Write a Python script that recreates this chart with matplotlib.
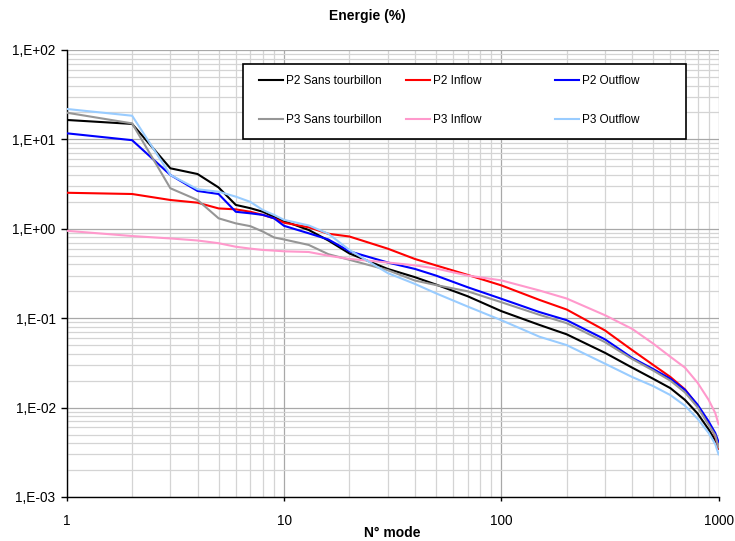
import numpy as np
import matplotlib
matplotlib.use("Agg")
import matplotlib.pyplot as plt
from matplotlib.ticker import FixedLocator, FuncFormatter, LogLocator, NullFormatter
from matplotlib.patches import Rectangle

plt.rcParams['font.family'] = ['Liberation Sans', 'DejaVu Sans']

modes = [1, 2, 3, 4, 5, 6, 7, 8, 9, 10, 13, 16, 20, 30, 40, 50, 70, 100, 150, 200,
         300, 400, 500, 600, 700, 800, 900, 965, 1000]

p2_sans = [16.5, 14.9, 4.75, 4.1, 2.9, 1.85, 1.7, 1.55, 1.36, 1.22, 0.97, 0.74, 0.53,
           0.356, 0.288, 0.238, 0.176, 0.12, 0.084, 0.066, 0.041, 0.028, 0.021,
           0.0165, 0.0122, 0.0086, 0.0057, 0.0043, 0.0035]
p2_inflow = [2.53, 2.45, 2.1, 1.96, 1.69, 1.65, 1.55, 1.43, 1.31, 1.17, 1.04, 0.88, 0.82,
             0.6, 0.46, 0.39, 0.305, 0.233, 0.16, 0.125, 0.073, 0.044, 0.030,
             0.022, 0.016, 0.0105, 0.0067, 0.0048, 0.0035]
p2_outflow = [11.7, 9.8, 4.0, 2.65, 2.45, 1.55, 1.49, 1.43, 1.31, 1.08, 0.89, 0.76, 0.56,
              0.42, 0.356, 0.30, 0.222, 0.165, 0.117, 0.095, 0.058, 0.036, 0.027,
              0.021, 0.0158, 0.0108, 0.007, 0.0052, 0.0041]
p3_sans = [19.9, 15.1, 2.84, 2.1, 1.31, 1.15, 1.07, 0.93, 0.8, 0.76, 0.66, 0.52, 0.45,
           0.345, 0.264, 0.235, 0.2, 0.151, 0.109, 0.088, 0.054, 0.035, 0.026,
           0.020, 0.0148, 0.0101, 0.0064, 0.0049, 0.0036]
p3_inflow = [0.95, 0.83, 0.78, 0.74, 0.69, 0.63, 0.60, 0.58, 0.57, 0.56, 0.55, 0.50, 0.46,
             0.42, 0.39, 0.36, 0.30, 0.265, 0.204, 0.166, 0.108, 0.076, 0.052,
             0.037, 0.028, 0.019, 0.0122, 0.0087, 0.0065]
p3_outflow = [21.9, 18.4, 4.0, 2.77, 2.6, 2.29, 2.0, 1.62, 1.43, 1.26, 1.09, 0.88, 0.58,
              0.32, 0.242, 0.19, 0.135, 0.095, 0.062, 0.05, 0.031, 0.022, 0.0174,
              0.0138, 0.0105, 0.0075, 0.0052, 0.0039, 0.003]

labels = ["P2 Sans tourbillon", "P2 Inflow", "P2 Outflow",
          "P3 Sans tourbillon", "P3 Inflow", "P3 Outflow"]
series = [p2_sans, p2_inflow, p2_outflow, p3_sans, p3_inflow, p3_outflow]
colors = ["#000000", "#FF0000", "#0000FF", "#969696", "#FF99CC", "#99CCFF"]
x_ticks = [1, 10, 100, 1000]
x_tick_labels = ["1", "10", "100", "1000"]

fig = plt.figure(figsize=(7.35, 5.41), dpi=100)
ax = fig.add_axes([66.7 / 735, 1 - 497 / 541, (718.6 - 66.7) / 735, (497 - 50) / 541])

lines = []
for vals, lab, col in zip(series, labels, colors):
    ln, = ax.plot(modes, vals, color=col, lw=1.5, label=lab, zorder=3)
    lines.append(ln)

ax.set_xscale('log')
ax.set_yscale('log')
ax.set_xlim(1, 1000)
ax.set_ylim(1e-3, 1e2)

ax.xaxis.set_major_locator(FixedLocator(x_ticks))
ax.xaxis.set_major_formatter(FuncFormatter(
    lambda v, p: x_tick_labels[x_ticks.index(int(round(v)))] if int(round(v)) in x_ticks else ""))
ax.xaxis.set_minor_locator(LogLocator(base=10, subs=np.arange(2, 10)))
ax.xaxis.set_minor_formatter(NullFormatter())
ax.yaxis.set_major_locator(LogLocator(base=10, numticks=10))
ax.yaxis.set_major_formatter(FuncFormatter(lambda v, p: "1,E%+03d" % int(round(np.log10(v)))))
ax.yaxis.set_minor_locator(LogLocator(base=10, subs=np.arange(2, 10), numticks=20))
ax.yaxis.set_minor_formatter(NullFormatter())

ax.grid(True, which='major', color='#A8A8A8', lw=0.9, zorder=0)
ax.grid(True, which='minor', color='#D4D4D4', lw=0.9, zorder=0)
ax.set_axisbelow(True)
ax.tick_params(which='minor', length=0)
ax.tick_params(axis='y', which='major', length=4, width=1, pad=4, labelsize=9.8, direction='out')
ax.tick_params(axis='x', which='major', length=3, width=1, pad=9, labelsize=9.8, direction='out')
ax.spines['top'].set_visible(False)
ax.spines['right'].set_visible(False)
for s in ['left', 'bottom']:
    ax.spines[s].set_linewidth(1.0)
    ax.spines[s].set_color('black')

# Legend frame
ax.add_patch(Rectangle((0.271, 0.801), 0.679, 0.168, transform=ax.transAxes,
                       facecolor='white', edgecolor='black', lw=1.2, zorder=5))
col_x = [(259 - 66.7) / 651.9, (406 - 66.7) / 651.9, (555 - 66.7) / 651.9]
legs = []
for c in range(3):
    leg = ax.legend([lines[c], lines[c + 3]], [labels[c], labels[c + 3]],
                    loc='center left', bbox_to_anchor=(col_x[c], (497 - 100.5) / 447),
                    frameon=False, fontsize=8.5, handlelength=2.0, handletextpad=0.3,
                    labelspacing=2.3, borderpad=0, borderaxespad=0)
    leg.set_zorder(6)
    legs.append(leg)
for leg in legs[:-1]:
    ax.add_artist(leg)

fig.text(0.5, 1 - 16 / 541, "Energie (%)", ha='center', va='center',
         fontsize=10, fontweight='bold')
fig.text(392.6 / 735, 8 / 541, "N° mode", ha='center', va='center',
         fontsize=10, fontweight='bold')

fig.savefig("out.png", dpi=100)
